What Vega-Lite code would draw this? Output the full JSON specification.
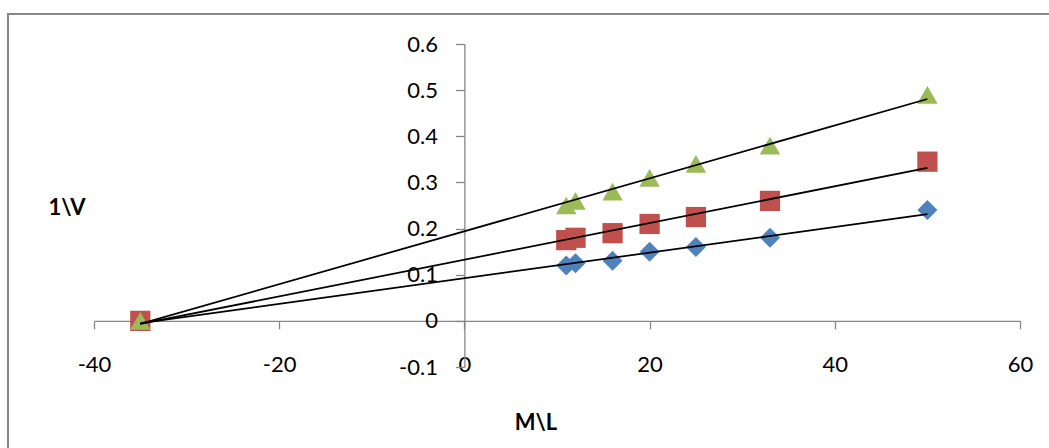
{
  "$schema": "https://vega.github.io/schema/vega-lite/v6.json",
  "width": 926,
  "height": 323,
  "autosize": {"type": "none"},
  "padding": {"left": 94, "top": 44, "right": 29, "bottom": 81},
  "background": "white",
  "config": {
    "view": {"stroke": null},
    "axis": {
      "labelFont": "Lato", "labelFontSize": 22, "labelColor": "#000000",
      "titleFont": "Lato", "titleFontSize": 22, "titleFontWeight": "bold", "titleColor": "#000000",
      "grid": false, "domainColor": "#868686", "tickColor": "#868686",
      "domainWidth": 1.3, "tickWidth": 1.3, "labelFlush": false, "labelOverlap": false
    }
  },
  "data": {
    "values": [
      {"series": "A", "x": -35, "y": 0},
      {"series": "A", "x": 11, "y": 0.12},
      {"series": "A", "x": 12, "y": 0.125},
      {"series": "A", "x": 16, "y": 0.13},
      {"series": "A", "x": 20, "y": 0.15},
      {"series": "A", "x": 25, "y": 0.16},
      {"series": "A", "x": 33, "y": 0.18},
      {"series": "A", "x": 50, "y": 0.24},
      {"series": "B", "x": -35, "y": 0},
      {"series": "B", "x": 11, "y": 0.175},
      {"series": "B", "x": 12, "y": 0.18},
      {"series": "B", "x": 16, "y": 0.19},
      {"series": "B", "x": 20, "y": 0.21},
      {"series": "B", "x": 25, "y": 0.225},
      {"series": "B", "x": 33, "y": 0.26},
      {"series": "B", "x": 50, "y": 0.345},
      {"series": "C", "x": -35, "y": 0},
      {"series": "C", "x": 11, "y": 0.25},
      {"series": "C", "x": 12, "y": 0.26},
      {"series": "C", "x": 16, "y": 0.28},
      {"series": "C", "x": 20, "y": 0.31},
      {"series": "C", "x": 25, "y": 0.34},
      {"series": "C", "x": 33, "y": 0.38},
      {"series": "C", "x": 50, "y": 0.49}
    ]
  },
  "resolve": {"axis": {"x": "independent", "y": "independent"}},
  "layer": [
    {
      "data": {"values": [{"frame": 1}]},
      "mark": {"type": "rect", "fill": "transparent", "stroke": "#878787", "strokeWidth": 2},
      "encoding": {
        "x": {"datum": -49.29, "type": "quantitative", "scale": {"domain": [-40, 60], "nice": false, "zero": false}, "axis": null},
        "x2": {"datum": 70},
        "y": {"datum": 0.665, "type": "quantitative", "scale": {"domain": [-0.1, 0.6], "nice": false, "zero": false}, "axis": null},
        "y2": {"datum": -0.3}
      }
    },
    {
      "mark": {"type": "point", "filled": true, "opacity": 1},
      "encoding": {
        "x": {
          "field": "x", "type": "quantitative",
          "scale": {"domain": [-40, 60], "nice": false, "zero": false},
          "axis": {"orient": "bottom", "offset": -46.14, "labels": false, "title": null, "tickSize": 8, "values": [-40, -20, 0, 20, 40, 60]}
        },
        "y": {
          "field": "y", "type": "quantitative",
          "scale": {"domain": [-0.1, 0.6], "nice": false, "zero": false},
          "axis": {"orient": "left", "offset": -370.4, "title": null, "tickSize": 9, "labelPadding": 18, "values": [-0.1, 0, 0.1, 0.2, 0.3, 0.4, 0.5, 0.6], "labelExpr": "'' + datum.value"}
        },
        "shape": {"field": "series", "type": "nominal", "scale": {"domain": ["A", "B", "C"], "range": ["diamond", "square", "triangle-up"]}, "legend": null},
        "color": {"field": "series", "type": "nominal", "scale": {"domain": ["A", "B", "C"], "range": ["#4F81BD", "#C0504D", "#9BBB59"]}, "legend": null},
        "size": {"field": "series", "type": "nominal", "scale": {"domain": ["A", "B", "C"], "range": [400, 420, 480]}, "legend": null}
      }
    },
    {
      "transform": [{"regression": "y", "on": "x", "groupby": ["series"]}],
      "mark": {"type": "line", "color": "#000000", "strokeWidth": 1.75},
      "encoding": {
        "x": {
          "field": "x", "type": "quantitative",
          "scale": {"domain": [-40, 60], "nice": false, "zero": false},
          "axis": {"orient": "bottom", "domain": false, "ticks": false, "labelPadding": -13, "values": [-40, -20, 0, 20, 40, 60], "labelExpr": "'' + datum.value", "title": "M\\L", "titleX": 441.5, "titleY": 55, "titleAlign": "center", "titleBaseline": "middle"}
        },
        "y": {
          "field": "y", "type": "quantitative",
          "scale": {"domain": [-0.1, 0.6], "nice": false, "zero": false},
          "axis": {"orient": "left", "domain": false, "ticks": false, "labels": false, "title": "1\\V", "titleAngle": 0, "titleX": -27.5, "titleY": 163, "titleAlign": "center", "titleBaseline": "middle"}
        },
        "detail": {"field": "series", "type": "nominal"}
      }
    }
  ]
}
